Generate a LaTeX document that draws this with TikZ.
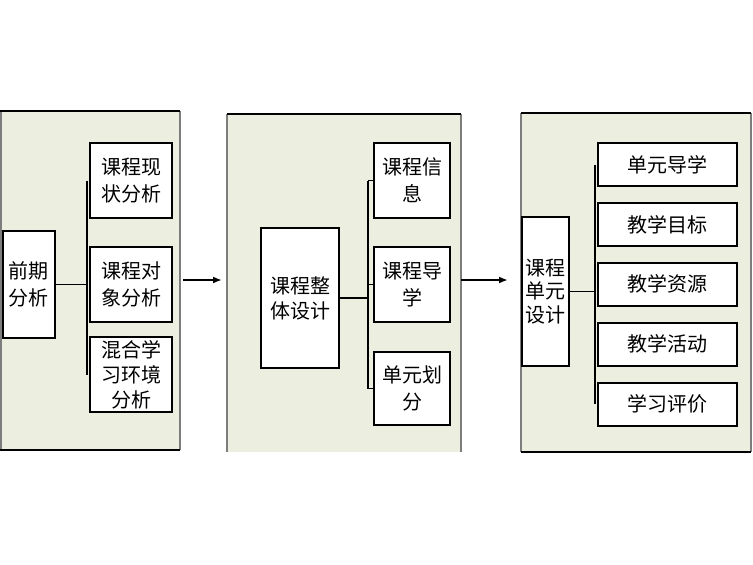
\documentclass[tikz,border=0pt]{standalone}
\usepackage{fontspec}
\setmainfont{Noto Sans CJK SC}
\usepackage{tikz}
\usetikzlibrary{arrows.meta}
\definecolor{panelfill}{RGB}{236,238,223}
\definecolor{panelside}{RGB}{125,125,125}

\begin{document}
\begin{tikzpicture}[x=1pt,y=-1pt,
    box/.style={draw,line width=1.9pt,fill=white,inner sep=0pt,align=center,font=\fontsize{20}{27}\selectfont},
    link/.style={line width=1.9pt},
    trunk/.style={line width=2.6pt},
    flow/.style={line width=1.9pt,-{Latex[length=9pt,width=7pt]}}]
  \useasboundingbox (0,0) rectangle (753,565);
  % panels
  \fill[panelfill] (0,111) rectangle (180,450);
  \fill[panelfill] (227,114) rectangle (461,452);
  \fill[panelfill] (521,113) rectangle (751,452);
  \draw[panelside,line width=1.5pt] (0.8,111) -- (0.8,450) (180,111) -- (180,450);
  \draw[line width=1.5pt] (0,111) -- (180,111) (0,450) -- (180,450);
  \draw[panelside,line width=1.5pt] (227,114) -- (227,452) (461,114) -- (461,452);
  \draw[line width=1.5pt] (227,114) -- (461,114);
  \draw[panelside,line width=1.5pt] (521,113) -- (521,452) (751,113) -- (751,452);
  \draw[line width=1.5pt] (521,113) -- (751,113) (521,452) -- (751,452);

  % first stage
  \node[box,minimum width=52,minimum height=107] (qq) at (29,284.5) {前期\\分析};
  \node[box,minimum width=82,minimum height=75] (a1) at (131,180.5) {课程现\\状分析};
  \node[box,minimum width=82,minimum height=75] (a2) at (131,284.5) {课程对\\象分析};
  \node[box,minimum width=82,minimum height=75,font=\fontsize{20}{25}\selectfont] (a3) at (131,374.5) {混合学\\习环境\\分析};
  \coordinate (ta) at ([xshift=-2pt]a1.west);
  \draw[trunk] (ta) -- ([xshift=-2pt]a3.west);
  \draw[link] (qq.east) -- (qq.east -| ta);

  % second stage
  \node[box,minimum width=78,minimum height=140,font=\fontsize{20}{25}\selectfont] (zt) at (300,298) {课程整\\体设计};
  \node[box,minimum width=76,minimum height=75] (b1) at (412,180.5) {课程信\\息};
  \node[box,minimum width=76,minimum height=75] (b2) at (412,284.5) {课程导\\学};
  \node[box,minimum width=76,minimum height=73] (b3) at (412,388.5) {单元划\\分};
  \coordinate (tb) at ([xshift=-5pt]b1.west);
  \draw[trunk] (tb) -- ([xshift=-5pt]b3.west);
  \foreach \n in {b1,b2,b3}
    \draw[link] ([xshift=-5pt]\n.west) -- (\n.west);
  \draw[link] (zt.east) -- (zt.east -| tb);

  % third stage
  \node[box,minimum width=47,minimum height=149,font=\fontsize{20}{23.5}\selectfont] (dy) at (545.5,291.5) {课程\\单元\\设计};
  \foreach \txt [count=\i] in {单元导学,教学目标,教学资源,教学活动,学习评价}
    \node[box,minimum width=139,minimum height=43] (c\i) at (667.5,{104.6+59.9*\i}) {\txt};
  \coordinate (tc) at ([xshift=-2pt]c1.west);
  \draw[trunk] (tc) -- ([xshift=-2pt]c5.west);
  \draw[link] (dy.east) -- (dy.east -| tc);

  % flow between stages
  \coordinate (o1) at (183,280);
  \coordinate (i2) at (222,280);
  \coordinate (o2) at (461,280);
  \coordinate (i3) at (508,280);
  \draw[flow] (o1) -- (i2);
  \draw[flow] (o2) -- (i3);
\end{tikzpicture}
\end{document}
